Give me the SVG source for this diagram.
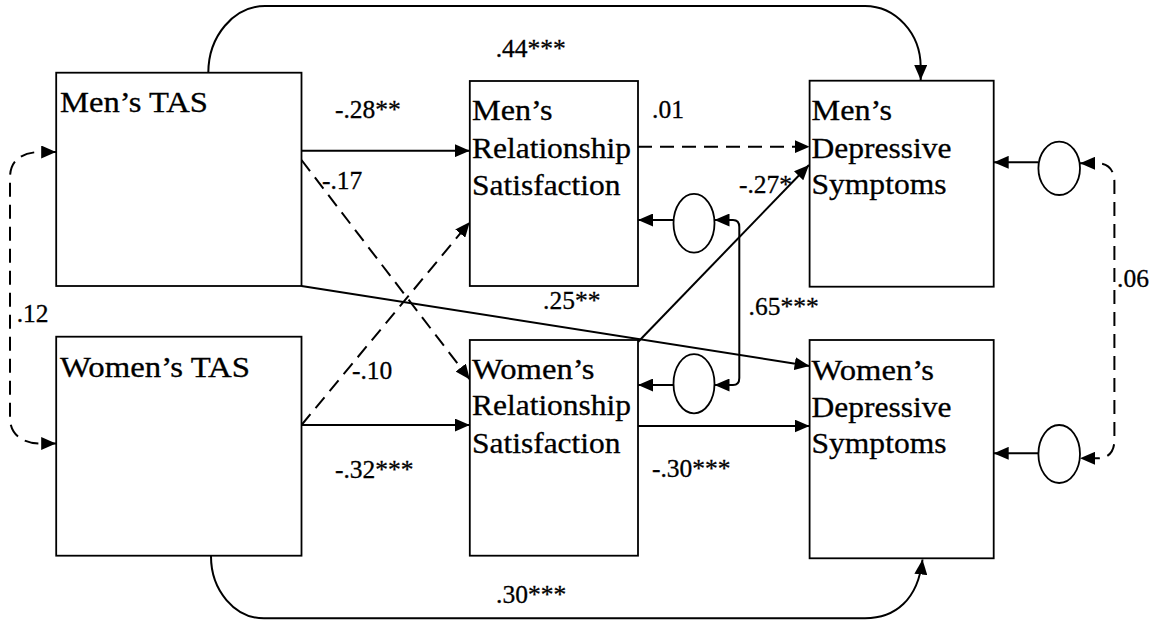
<svg xmlns="http://www.w3.org/2000/svg" width="1158" height="621" viewBox="0 0 1158 621">
<style>
.box{fill:#fff;stroke:#000;stroke-width:1.8}
.err{fill:#fff;stroke:#000;stroke-width:1.8}
text{font-family:'Liberation Serif','Times New Roman',Times,serif;fill:#000;stroke:#000;stroke-width:0.3}
.nt{font-size:30px}
.lb{font-size:25.5px}
.c{fill:none;stroke:#000;stroke-width:2;marker-end:url(#ah)}
.d{stroke-dasharray:14 8}
.both{marker-start:url(#ah)}
</style>
<defs>
<marker id="ah" markerUnits="userSpaceOnUse" markerWidth="15" markerHeight="13" refX="15" refY="6.5" orient="auto-start-reverse">
<path d="M0 0 L15 6.5 L0 13 z" fill="#000"/>
</marker>
</defs>
<rect width="1158" height="621" fill="#fff"/>

<g id="connectors">
<path class="c" d="M208.3 73 A57 67 0 0 1 265 6 H865 A56 61 0 0 1 920.7 66.7 V80"/>
<path class="c" d="M211 556 A53 62 0 0 0 264 618.3 H865 C895 618.3 918 600 922.5 559.5"/>
<path class="c" d="M301.5 150.7 H469.8"/>
<path class="c" d="M301.5 425 H469.8"/>
<path class="c d" d="M301.5 160 L469.8 379.5"/>
<path class="c d" d="M301.5 425 L469.8 222"/>
<path class="c" d="M301.5 286 L809.6 366"/>
<path class="c d" d="M638 146.7 H809.6"/>
<path class="c" d="M638 426 H809.6"/>
<path class="c" d="M638 342 L809 165"/>
<path class="c" d="M673.5 220 H638"/>
<path class="c" d="M673.5 385 H638"/>
<path class="c" d="M1038.2 162.3 H993.7"/>
<path class="c" d="M1038.2 453.3 H993.7"/>
<path class="c both" d="M714.5 220 H733 Q739.3 220 739.3 227 V378 Q739.3 385 733 385 H714.5"/>
<path class="c both d" d="M1080 163.3 H1098 C1108 163.3 1114.4 170 1114.4 182 V440 C1114.4 452 1108 458.3 1098 458.3 H1080"/>
<path class="c both d" d="M56.2 152 H41 C22 152 10 160 10 178 V418 C10 434 22 443.5 41 443.5 H56.2"/>
</g>

<g id="n-men-tas">
<rect class="box" x="56.2" y="72.7" width="245.3" height="213.3"/>
<text class="nt" x="60" y="111.5" textLength="148" lengthAdjust="spacingAndGlyphs">Men’s TAS</text>
</g>
<g id="n-women-tas">
<rect class="box" x="56.2" y="336.7" width="245.3" height="219"/>
<text class="nt" x="60" y="376.7" textLength="190" lengthAdjust="spacingAndGlyphs">Women’s TAS</text>
</g>
<g id="n-men-rs">
<rect class="box" x="469.8" y="81" width="168.2" height="205"/>
<text class="nt" x="472" y="120" textLength="80.5" lengthAdjust="spacingAndGlyphs">Men’s</text>
<text class="nt" x="472" y="158" textLength="159" lengthAdjust="spacingAndGlyphs">Relationship</text>
<text class="nt" x="472" y="195" textLength="148.5" lengthAdjust="spacingAndGlyphs">Satisfaction</text>
</g>
<g id="n-women-rs">
<rect class="box" x="469.8" y="340" width="168.2" height="215.7"/>
<text class="nt" x="472" y="378.5" textLength="122.5" lengthAdjust="spacingAndGlyphs">Women’s</text>
<text class="nt" x="472" y="415" textLength="159" lengthAdjust="spacingAndGlyphs">Relationship</text>
<text class="nt" x="472" y="452.5" textLength="148.5" lengthAdjust="spacingAndGlyphs">Satisfaction</text>
</g>
<g id="n-men-dep">
<rect class="box" x="809.6" y="80.7" width="184.1" height="206"/>
<text class="nt" x="811.5" y="120" textLength="80.5" lengthAdjust="spacingAndGlyphs">Men’s</text>
<text class="nt" x="811.5" y="157.5" textLength="140" lengthAdjust="spacingAndGlyphs">Depressive</text>
<text class="nt" x="811.5" y="194" textLength="135" lengthAdjust="spacingAndGlyphs">Symptoms</text>
</g>
<g id="n-women-dep">
<rect class="box" x="809.6" y="340" width="184.1" height="218.3"/>
<text class="nt" x="811.5" y="379.5" textLength="122.5" lengthAdjust="spacingAndGlyphs">Women’s</text>
<text class="nt" x="811.5" y="416.7" textLength="140" lengthAdjust="spacingAndGlyphs">Depressive</text>
<text class="nt" x="811.5" y="453.3" textLength="135" lengthAdjust="spacingAndGlyphs">Symptoms</text>
</g>
<g id="e-men-rs"><ellipse class="err" cx="694" cy="223.3" rx="20.5" ry="29.4"/></g>
<g id="e-women-rs"><ellipse class="err" cx="694" cy="383.7" rx="20.5" ry="29.6"/></g>
<g id="e-men-dep"><ellipse class="err" cx="1059.2" cy="168.3" rx="20.8" ry="26.7"/></g>
<g id="e-women-dep"><ellipse class="err" cx="1059.2" cy="454" rx="20.8" ry="29"/></g>

<g id="labels">
<text class="lb" x="495.7" y="57">.44***</text>
<text class="lb" x="335" y="117.5">-.28**</text>
<text class="lb" x="322" y="189">-.17</text>
<text class="lb" x="652" y="118">.01</text>
<text class="lb" x="739" y="193">-.27*</text>
<text class="lb" x="543" y="309.3">.25**</text>
<text class="lb" x="748.5" y="315">.65***</text>
<text class="lb" x="16.7" y="321.7">.12</text>
<text class="lb" x="1117" y="287">.06</text>
<text class="lb" x="352" y="379.3">-.10</text>
<text class="lb" x="335" y="478.3">-.32***</text>
<text class="lb" x="652" y="476.7">-.30***</text>
<text class="lb" x="496" y="603">.30***</text>
</g>
</svg>
